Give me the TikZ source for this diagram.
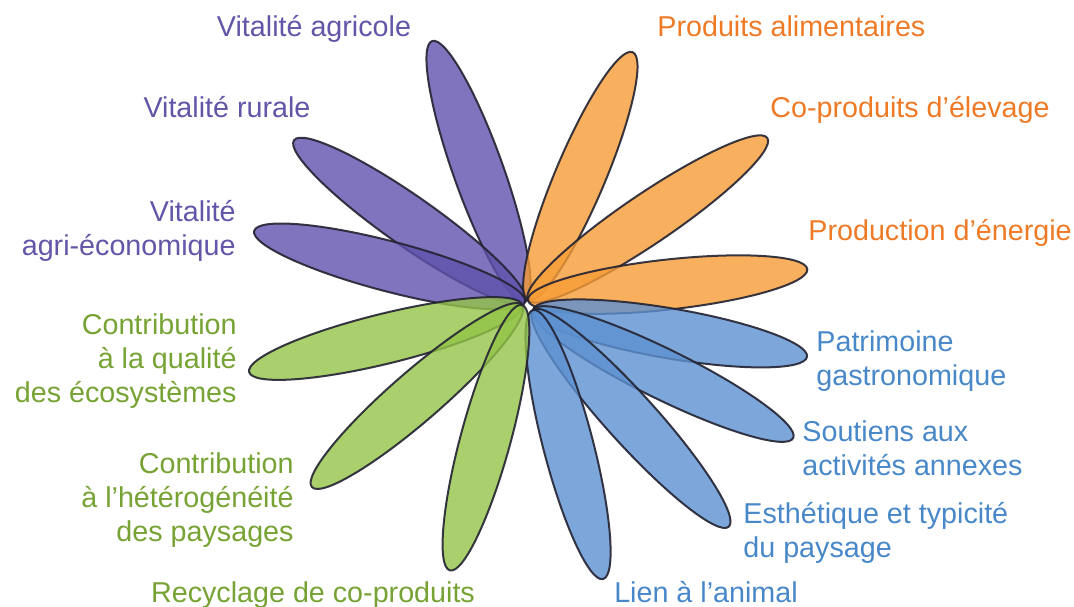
\documentclass[tikz,border=0pt]{standalone}
\usepackage{fontspec}
\setmainfont{Liberation Sans}
\usetikzlibrary{positioning}

\definecolor{violetP}{RGB}{95,81,172}
\definecolor{orangeP}{RGB}{247,156,54}
\definecolor{blueP}{RGB}{93,145,209}
\definecolor{greenP}{RGB}{147,196,71}
\definecolor{violetT}{RGB}{98,86,168}
\definecolor{orangeT}{RGB}{238,122,38}
\definecolor{blueT}{RGB}{72,136,200}
\definecolor{greenT}{RGB}{118,163,52}
\definecolor{rim}{RGB}{35,35,50}

\begin{document}
\begin{tikzpicture}[x=0.5pt, y=0.5pt,
    petal/.style={draw=rim, line width=1pt, fill opacity=0.8, draw opacity=0.9},
    crit/.style={inner sep=0pt, font=\fontsize{14.35pt}{16.8pt}\selectfont},
    violet/.style={crit, text=violetT},
    orangey/.style={crit, text=orangeT},
    bluey/.style={crit, text=blueT},
    greeny/.style={crit, text=greenT}]

\useasboundingbox (0,0) rectangle (1074,606);

% violet petals
\draw [petal, fill=violetP, shift={(525,304)}, rotate=109.6] (138.5,0) ellipse (138.5 and 25);
\draw [petal, fill=violetP, shift={(525,304)}, rotate=145.0] (141,0) ellipse (141 and 25);
\draw [petal, fill=violetP, shift={(525,304)}, rotate=165.3] (140,0) ellipse (140 and 25);

% orange petals
\draw [petal, fill=orangeP, shift={(528,306)}, rotate=67.1] (134.5,0) ellipse (134.5 and 25);
\draw [petal, fill=orangeP, shift={(528,306)}, rotate=34.1] (144.5,0) ellipse (144.5 and 25);
\draw [petal, fill=orangeP, shift={(528,306)}, rotate=6.3] (140.5,0) ellipse (140.5 and 25);

% blue petals
\draw [petal, fill=blueP, shift={(533,296)}, rotate=-9.7] (139,0) ellipse (139 and 25);
\draw [petal, fill=blueP, shift={(533,296)}, rotate=-26.2] (145,0) ellipse (145 and 25);
\draw [petal, fill=blueP, shift={(533,296)}, rotate=-47.9] (146,0) ellipse (146 and 25);
\draw [petal, fill=blueP, shift={(533,296)}, rotate=-75.4] (139,0) ellipse (139 and 25);

% green petals
\draw [petal, fill=greenP, shift={(522,301)}, rotate=193.8] (140.5,0) ellipse (140.5 and 25);
\draw [petal, fill=greenP, shift={(522,301)}, rotate=220.9] (139,0) ellipse (139 and 25);
\draw [petal, fill=greenP, shift={(522,301)}, rotate=254.8] (137.5,0) ellipse (137.5 and 25);

% labels (multi-line: base = last line)
\node [violet, anchor=base] (agricole) at (314,569) {Vitalité agricole};
\node [violet, anchor=base] (rurale) at (227,488) {Vitalité rurale};
\node [violet, anchor=base east, align=right] (agrieco) at (236,351) {Vitalité\\agri-économique};

\node [orangey, anchor=base west] (alim) at (657,569) {Produits alimentaires};
\node [orangey, anchor=base west] (coprod) at (770,488) {Co-produits d’élevage};
\node [orangey, anchor=base west] (energie) at (808,366) {Production d’énergie};

\node [bluey, anchor=base west, align=left] (patrimoine) at (816,221) {Patrimoine\\gastronomique};
\node [bluey, anchor=base west, align=left] (soutiens) at (802,131) {Soutiens aux\\activités annexes};
\node [bluey, anchor=base west, align=left] (esthetique) at (743,49) {Esthétique et typicité\\du paysage};
\node [bluey, anchor=base] (lien) at (706,4) {Lien à l’animal};

\node [greeny, anchor=base east, align=right] (qualite) at (237,204) {Contribution\\à la qualité\\des écosystèmes};
\node [greeny, anchor=base east, align=right] (hetero) at (294,65) {Contribution\\à l’hétérogénéité\\des paysages};
\node [greeny, anchor=base] (recyclage) at (313,4) {Recyclage de co-produits};

\end{tikzpicture}
\end{document}
